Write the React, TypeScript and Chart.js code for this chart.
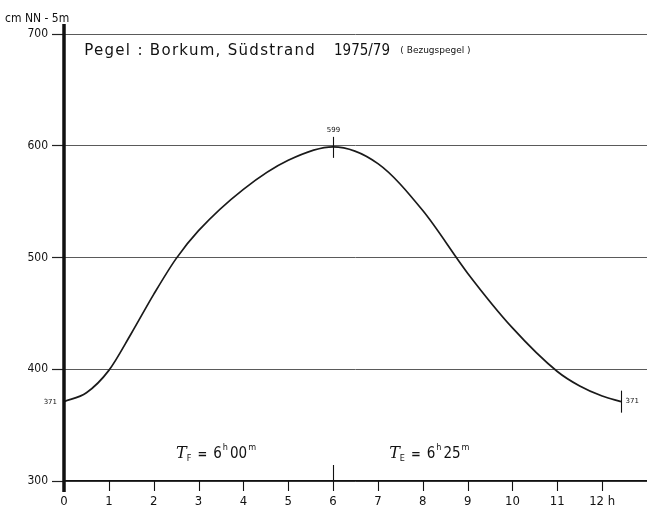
import React, { useEffect, useRef } from "react";
import { Chart, registerables } from "chart.js";

Chart.register(...registerables);

// ---- data ----
const hours = [0, 0.5, 1, 1.5, 2, 2.5, 3, 4, 5, 6, 7, 8, 9, 10, 11, 11.5, 12, 12.42];
const levels = [371, 379, 399, 432, 467, 499, 524, 561, 587, 599, 584, 542, 486, 437, 398, 385, 376, 371];
const xTickLabels = ["0", "1", "2", "3", "4", "5", "6", "7", "8", "9", "10", "11", "12 h", ""];
const yMin = 300;
const yMax = 700;
const yStep = 100;
const lowWater = 371;
const highWater = 599;
const highTime = 6;
const endTime = 12.42;
const titleText = "Pegel : Borkum, Südstrand";
const titleYear = "1975/79";
const titleNote = "( Bezugspegel )";
const yUnit = "cm NN - 5m";

const COND = '"Liberation Sans Narrow", "DejaVu Sans Condensed", "DejaVu Sans", sans-serif';
const SANS = '"DejaVu Sans", "Liberation Sans", sans-serif';

type Run = { t: string; font: string; dy?: number; gap?: number };

function drawRuns(ctx: CanvasRenderingContext2D, x: number, base: number, runs: Run[]) {
  for (const r of runs) {
    ctx.font = r.font;
    ctx.fillText(r.t, x, base + (r.dy || 0));
    x += ctx.measureText(r.t).width + (r.gap || 0);
  }
}

const decor = {
  id: "decor",
  afterDraw(chart: any) {
    const { ctx, chartArea } = chart;
    const x = chart.scales.x;
    const y = chart.scales.y;
    ctx.save();
    ctx.strokeStyle = "#111";
    ctx.fillStyle = "#111";
    ctx.lineCap = "butt";

    // thick vertical axis
    const x0 = x.getPixelForValue(0);
    ctx.lineWidth = 3.5;
    ctx.beginPath();
    ctx.moveTo(x0, chartArea.top - 10);
    ctx.lineTo(x0, chartArea.bottom + 11);
    ctx.stroke();

    // hour ticks on x axis (hanging below the axis)
    ctx.lineWidth = 1.1;
    for (let h = 1; h <= 12; h++) {
      const px = Math.round(x.getPixelForValue(h)) + 0.5;
      const up = h === highTime ? 16 : 0;
      ctx.beginPath();
      ctx.moveTo(px, chartArea.bottom - up);
      ctx.lineTo(px, chartArea.bottom + 10);
      ctx.stroke();
    }

    // high water marker
    const phx = Math.round(x.getPixelForValue(highTime)) + 0.5;
    const phy = y.getPixelForValue(highWater);
    ctx.beginPath();
    ctx.moveTo(phx, phy - 10);
    ctx.lineTo(phx, phy + 11);
    ctx.stroke();
    // end marker
    const pex = Math.round(x.getPixelForValue(endTime)) + 0.5;
    const pey = y.getPixelForValue(lowWater);
    ctx.beginPath();
    ctx.moveTo(pex, pey - 11);
    ctx.lineTo(pex, pey + 11);
    ctx.stroke();

    // small value labels
    ctx.font = "7px " + SANS;
    ctx.textBaseline = "middle";
    ctx.textAlign = "center";
    ctx.fillText(String(highWater), phx, phy - 17);
    ctx.textAlign = "right";
    ctx.fillText(String(lowWater), x0 - 7, y.getPixelForValue(lowWater) + 1);
    ctx.textAlign = "left";
    ctx.fillText(String(lowWater), pex + 4, pey);

    // unit label
    ctx.textBaseline = "alphabetic";
    ctx.font = "12px " + COND;
    ctx.fillText(yUnit, 5, chartArea.top - 12);

    // title
    const top = y.getPixelForValue(yMax);
    (ctx as any).letterSpacing = "1.3px";
    ctx.font = "15px " + SANS;
    ctx.fillText(titleText, x.getPixelForValue(0.45), top + 21);
    (ctx as any).letterSpacing = "0px";
    ctx.font = "15px " + COND;
    ctx.fillText(titleYear, x.getPixelForValue(6.02), top + 21);
    ctx.font = "9px " + SANS;
    ctx.fillText(titleNote, x.getPixelForValue(7.5), top + 19);

    // duration labels
    const base = chartArea.bottom - 23;
    const it = "italic 16px " + '"DejaVu Serif", "Liberation Serif", serif';
    const big = "15px " + COND;
    const sub = "9px " + COND;
    drawRuns(ctx, x.getPixelForValue(2.5), base, [
      { t: "T", font: it },
      { t: "F", font: sub, dy: 3, gap: 6 },
      { t: "=", font: "bold 13px " + COND, gap: 6 },
      { t: "6", font: big, gap: 1 },
      { t: "h", font: sub, dy: -8, gap: 2 },
      { t: "00", font: big, gap: 1 },
      { t: "m", font: sub, dy: -8 },
    ]);
    drawRuns(ctx, x.getPixelForValue(7.25), base, [
      { t: "T", font: it },
      { t: "E", font: sub, dy: 3, gap: 6 },
      { t: "=", font: "bold 13px " + COND, gap: 6 },
      { t: "6", font: big, gap: 1 },
      { t: "h", font: sub, dy: -8, gap: 2 },
      { t: "25", font: big, gap: 1 },
      { t: "m", font: sub, dy: -8 },
    ]);
    ctx.restore();
  },
};

export default function App() {
  const ref = useRef<HTMLCanvasElement>(null);
  useEffect(() => {
    if (!ref.current) return;
    const chart = new Chart(ref.current, {
      type: "line",
      data: {
        datasets: [
          {
            data: hours.map((h, i) => ({ x: h, y: levels[i] })),
            borderColor: "#1a1a1a",
            borderWidth: 1.7,
            pointRadius: 0,
            cubicInterpolationMode: "monotone",
            fill: false,
          },
        ],
      },
      options: {
        animation: false,
        responsive: false,
        layout: { padding: { top: 34, right: 0, left: 0, bottom: 0 } },
        plugins: { legend: { display: false }, tooltip: { enabled: false } },
        scales: {
          x: {
            type: "linear",
            min: 0,
            max: 13,
            afterFit: (s: any) => {
              s.height = 31;
              s.paddingRight = 0;
            },
            grid: { display: false, drawTicks: false },
            border: { display: true, color: "#111", width: 1.5 },
            ticks: {
              stepSize: 1,
              padding: 13,
              color: "#111",
              font: { family: COND, size: 13 },
              maxRotation: 0,
              autoSkip: false,
              callback: (v: any) => xTickLabels[Number(v)] ?? "",
            },
          },
          y: {
            type: "linear",
            min: yMin,
            max: yMax,
            afterFit: (s: any) => {
              s.width = 64;
            },
            grid: { color: "#5a5a5a", lineWidth: 1, tickLength: 12, tickColor: "#222", tickWidth: 1.2 },
            border: { display: false },
            ticks: {
              stepSize: yStep,
              padding: 4,
              color: "#111",
              font: { family: COND, size: 12 },
              callback: (v: any) => String(v),
            },
          },
        },
      },
      plugins: [decor],
    } as any);
    return () => chart.destroy();
  }, []);
  return (
    <div style={{ position: "absolute", left: 0, top: 0, width: 647, height: 512, background: "#fff" }}>
      <canvas ref={ref} width={647} height={512} />
    </div>
  );
}
